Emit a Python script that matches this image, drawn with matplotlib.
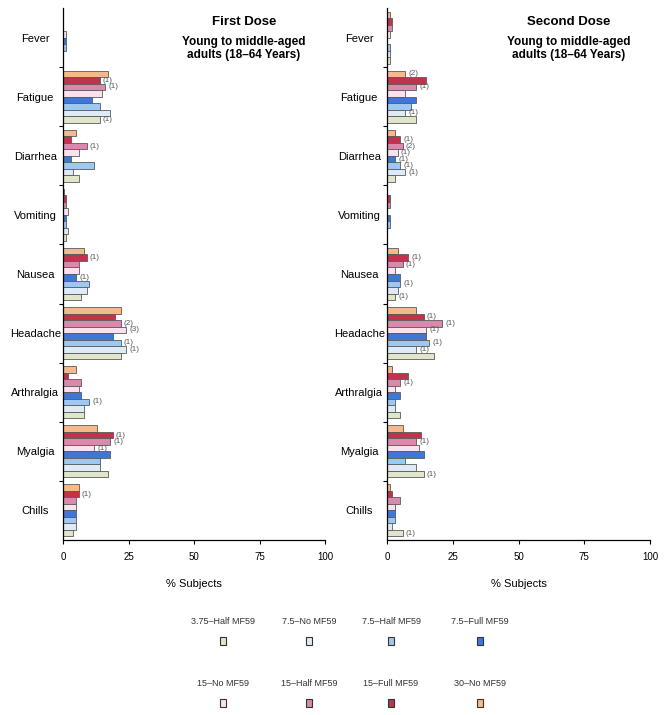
import numpy as np
import matplotlib.pyplot as plt
from matplotlib.patches import Rectangle

symptoms = ['Fever', 'Fatigue', 'Diarrhea', 'Vomiting', 'Nausea',
            'Headache', 'Arthralgia', 'Myalgia', 'Chills']

# groups, drawn top to bottom inside each symptom
groups = ['30-No MF59', '15-Full MF59', '15-Half MF59', '15-No MF59',
          '7.5-Full MF59', '7.5-Half MF59', '7.5-No MF59', '3.75-Half MF59']
colors = ['#f6b98c', '#c1324d', '#d98aac', '#f7e2ee',
          '#3f78d2', '#9ec8ef', '#dfeaf7', '#dfe6c9']

# % subjects, rows = symptoms, columns = groups (order above)
first_dose = [
    [0, 0, 0, 1, 1, 1, 0, 0],
    [17, 14, 16, 15, 11, 14, 18, 14],
    [5, 3, 9, 6, 3, 12, 4, 6],
    [0.5, 1, 1, 2, 1, 1, 2, 1],
    [8, 9, 6, 6, 5, 10, 9, 7],
    [22, 20, 22, 24, 19, 22, 24, 22],
    [5, 2, 7, 6, 7, 10, 8, 8],
    [13, 19, 18, 12, 18, 14, 14, 17],
    [6, 6, 5, 5, 5, 5, 5, 4],
]
first_notes = [
    ['', '', '', '', '', '', '', ''],
    ['', '(1)', '(1)', '', '', '', '', '(1)'],
    ['', '', '(1)', '', '', '', '', ''],
    ['', '', '', '', '', '', '', ''],
    ['', '(1)', '', '', '(1)', '', '', ''],
    ['', '', '(2)', '(3)', '', '(1)', '(1)', ''],
    ['', '', '', '', '', '(1)', '', ''],
    ['', '(1)', '(1)', '(1)', '', '', '', ''],
    ['', '(1)', '', '', '', '', '', ''],
]

second_dose = [
    [1, 2, 2, 1, 0, 1, 1, 1],
    [7, 15, 11, 7, 11, 9, 7, 11],
    [3, 5, 6, 4, 3, 5, 7, 3],
    [0, 1, 1, 0, 1, 1, 0, 0],
    [4, 8, 6, 3, 5, 5, 4, 3],
    [11, 14, 21, 15, 15, 16, 11, 18],
    [2, 8, 5, 3, 5, 3, 3, 5],
    [6, 13, 11, 12, 14, 7, 11, 14],
    [1, 2, 5, 3, 3, 3, 2, 6],
]
second_notes = [
    ['', '', '', '', '', '', '', ''],
    ['(2)', '', '(1)', '', '', '', '(1)', ''],
    ['', '(1)', '(2)', '(1)', '(1)', '(1)', '(1)', ''],
    ['', '', '', '', '', '', '', ''],
    ['', '(1)', '(1)', '', '', '(1)', '', '(1)'],
    ['', '(1)', '(1)', '(1)', '', '(1)', '(1)', ''],
    ['', '', '(1)', '', '', '', '', ''],
    ['', '', '(1)', '', '', '', '', '(1)'],
    ['', '', '', '', '', '', '', '(1)'],
]

titles = ['First Dose', 'Second Dose']
subtitle = 'Young to middle-aged\nadults (18\u201364 Years)'

plt.rcParams['font.family'] = ['Liberation Sans', 'DejaVu Sans']

fig = plt.figure(figsize=(6.68, 7.15), dpi=100)
ax1 = fig.add_axes([63 / 668, 1 - 540 / 715, 262 / 668, 532 / 715])
ax2 = fig.add_axes([387 / 668, 1 - 540 / 715, 263 / 668, 532 / 715])

bh = 0.11
ypos = np.arange(len(symptoms))

for ax, data, notes, title in [(ax1, first_dose, first_notes, titles[0]),
                               (ax2, second_dose, second_notes, titles[1])]:
    data = np.array(data, dtype=float)
    for j, g in enumerate(groups):
        y = ypos + (j - 3.5) * bh
        ax.barh(y, data[:, j], height=bh, color=colors[j],
                edgecolor='#5a5a5a', linewidth=0.6, label=g)
        for i in range(len(symptoms)):
            if notes[i][j]:
                ax.text(data[i, j] + 1.2, y[i], notes[i][j], fontsize=5.8,
                        color='#555555', va='center', ha='left')
    ax.set_xlim(0, 100)
    ax.set_ylim(8.5, -0.5)
    ax.set_xticks([0, 25, 50, 75, 100])
    ax.set_yticks(ypos)
    ax.set_yticklabels(symptoms, fontsize=8, ha='center')
    ax.set_yticks(np.arange(0.5, 8.5, 1), minor=True)
    ax.tick_params(axis='y', which='major', length=0, pad=20)
    ax.tick_params(axis='y', which='minor', length=3, width=0.8, direction='out')
    ax.tick_params(axis='x', labelsize=7, length=3, width=0.8, pad=6)
    for s in ['top', 'right']:
        ax.spines[s].set_visible(False)
    ax.spines['left'].set_linewidth(0.9)
    ax.spines['bottom'].set_linewidth(0.9)
    ax.set_xlabel('% Subjects', fontsize=8, labelpad=12)
    ax.text(0.69, 0.974, title, transform=ax.transAxes, ha='center',
            va='center', fontsize=9.5, fontweight='bold')
    ax.text(0.69, 0.924, subtitle, transform=ax.transAxes, ha='center',
            va='center', fontsize=8.5, fontweight='bold', linespacing=1.1)

# legend: label above a small swatch, two rows of four
legend_order = [7, 6, 5, 4, 3, 2, 1, 0]
col_x = [223, 309, 391, 480]
row_y = [[621, 641], [683, 703]]
for k, j in enumerate(legend_order):
    r, c = divmod(k, 4)
    fx = col_x[c] / 668
    fig.text(fx, 1 - row_y[r][0] / 715, groups[j].replace('-', '\u2013'),
             ha='center', va='center', fontsize=6.5, color='#333333')
    w, h = 6 / 668, 8 / 715
    fig.patches.append(Rectangle((fx - w / 2, 1 - row_y[r][1] / 715 - h / 2), w, h,
                                 transform=fig.transFigure, facecolor=colors[j],
                                 edgecolor='#333333', linewidth=0.8))

plt.savefig('out.png', dpi=100)
